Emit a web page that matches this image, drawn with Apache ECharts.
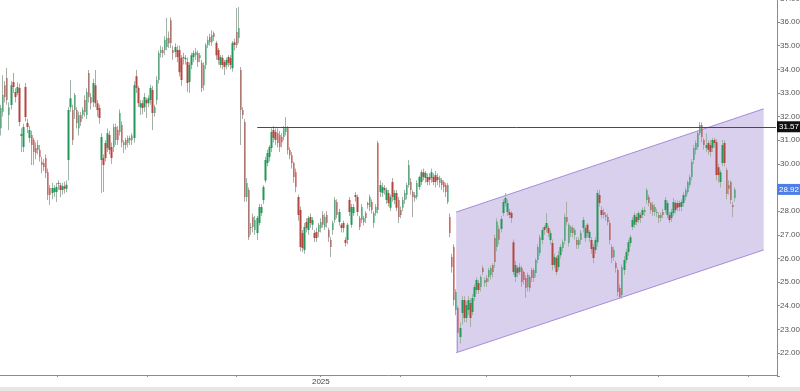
<!DOCTYPE html>
<html><head><meta charset="utf-8">
<script src="https://cdn.jsdelivr.net/npm/echarts@6/dist/echarts.min.js"></script>
<style>html,body{margin:0;padding:0;background:#fff;overflow:hidden}#c{width:800px;height:391px}</style>
</head><body><div id="c"></div>
<script>
// ---- data ----
const months = ['2024-05','2024-06','2024-07','2024-08','2024-09','2024-10','2024-11','2024-12','2025-01','2025-02','2025-03','2025-04','2025-05','2025-06','2025-07','2025-08','2025-09','2025-10','2025-11'];
const tradingDays = [9,19,22,22,20,23,20,21,20,19,21,21,21,20,22,21,21,23,14];
const tickMonths = ['2024-07','2024-09','2024-11','2025-01','2025-03','2025-05','2025-07','2025-09','2025-11'];
const yearLabelMonth = '2025-01';
const yearLabelText = '2025';
// [open, close, low, high]
const candles = [
[31.51,32.36,31.2,32.5],[32.2,32.91,32.0,33.75],[33.33,32.83,32.6,33.5],[33.63,32.7,32.5,34.05],[32.07,32.4,31.43,32.6],
[32.49,33.33,32.3,33.5],[33.46,33.25,33.0,33.85],[33.04,32.83,32.6,33.2],[33.0,33.25,32.9,33.45],[33.21,31.77,31.6,33.4],
[31.18,31.26,30.5,31.5],[30.71,31.56,30.5,31.7],[33.25,31.98,31.8,33.42],[31.73,31.56,31.3,31.9],[31.09,31.43,30.9,31.6],
[31.22,30.8,29.95,31.4],[31.01,30.5,29.95,31.1],[30.67,30.46,30.2,30.9],[30.59,30.8,30.4,31.0],[30.59,30.29,30.1,30.8],
[30.08,29.95,29.6,30.3],[30.04,29.87,29.7,30.2],[30.25,29.61,29.4,30.4],[29.65,28.68,28.47,29.8],[28.98,28.68,28.26,29.1],
[28.77,28.98,28.5,29.2],[28.81,28.98,28.6,29.1],[28.81,29.02,28.39,29.2],[29.19,29.15,28.9,29.3],[29.1,28.9,28.6,29.2],
[28.9,29.05,28.7,29.2],[29.05,28.95,28.75,29.25],[28.95,29.12,28.8,29.3],[30.16,32.28,29.3,32.4],[32.4,32.78,32.2,33.55],
[32.28,31.01,30.8,32.5],[32.28,32.91,31.9,33.0],[32.28,31.73,31.5,32.4],[31.51,32.07,31.2,32.2],[32.07,31.77,31.6,32.2],
[32.07,32.28,31.9,32.4],[32.7,32.19,32.0,32.9],[32.07,33.04,31.9,33.2],[33.84,32.83,32.6,33.97],[32.83,32.57,32.3,33.0],
[32.61,33.42,32.4,33.6],[33.33,32.57,32.4,33.97],[32.57,32.28,32.0,32.7],[32.36,31.94,31.7,32.5],[30.16,31.14,28.77,31.3],
[30.25,29.95,28.81,30.4],[30.88,30.25,30.1,31.0],[30.67,31.3,30.5,31.5],[31.22,30.59,30.4,31.4],[30.71,30.25,30.0,30.9],
[30.71,31.56,30.5,31.7],[31.56,31.01,30.8,31.7],[31.43,31.01,30.8,31.6],[31.35,32.15,31.2,32.3],[31.64,30.92,30.7,31.8],
[30.8,30.92,30.46,31.0],[31.01,30.8,30.6,31.1],[30.88,31.09,30.7,31.2],[31.09,31.0,30.8,31.2],[31.0,31.2,30.8,31.3],
[31.09,33.33,30.9,33.5],[33.71,33.21,33.0,33.97],[33.21,32.57,32.4,33.3],[32.4,32.57,32.07,32.7],[32.57,32.36,32.1,32.7],
[32.4,32.83,32.2,33.0],[32.7,32.57,31.94,32.8],[32.57,32.78,32.4,32.9],[32.7,33.21,32.5,33.35],[33.12,32.15,31.43,33.3],
[32.15,32.4,32.0,32.5],[32.7,33.55,32.5,33.7],[33.55,34.69,33.4,34.8],[34.69,34.82,34.5,35.0],[34.82,34.69,34.5,34.95],
[34.82,35.24,34.6,35.4],[34.94,35.32,34.8,36.17],[35.32,35.1,34.9,35.6],[36.08,35.11,34.9,36.2],[34.82,34.69,34.4,35.0],
[34.73,34.94,34.5,35.1],[34.82,34.52,34.3,35.0],[34.82,33.88,33.7,35.0],[34.48,33.55,33.3,34.6],[34.52,34.48,34.2,34.7],
[34.43,34.48,34.2,34.6],[34.31,33.42,33.04,34.5],[33.46,34.18,33.0,34.3],[34.18,34.6,34.0,34.7],[34.52,34.69,34.3,34.8],
[34.6,34.73,34.4,34.9],[34.69,34.31,34.1,34.8],[34.48,34.6,34.3,34.7],[34.27,33.21,33.04,34.4],[33.33,34.18,33.1,34.3],
[34.18,35.03,34.0,35.1],[35.03,35.24,34.9,35.4],[35.37,35.15,35.0,35.5],[35.15,35.45,35.0,35.66],[35.53,35.37,35.2,35.6],
[35.11,34.6,34.4,35.2],[34.82,34.39,34.2,34.9],[34.18,34.52,34.05,34.6],[34.48,34.18,34.0,34.6],[34.31,34.1,33.76,34.4],
[34.18,34.39,34.0,34.5],[34.52,34.27,34.1,34.6],[34.48,34.18,34.0,34.6],[34.05,35.11,33.9,35.2],[35.15,35.03,34.8,35.3],
[35.58,35.03,34.9,36.59],[35.32,35.75,35.1,36.63],[33.97,32.28,30.8,34.1],[32.28,32.07,31.9,32.4],[31.77,28.6,28.4,31.9],
[28.6,29.19,28.4,29.4],[28.89,26.9,26.78,29.0],[27.33,27.29,27.0,27.5],[27.75,27.33,27.1,27.9],[27.2,27.63,27.0,27.8],
[27.08,27.71,26.78,27.8],[27.5,28.18,27.4,28.3],[27.92,28.18,27.8,28.3],[28.47,29.02,28.3,29.1],[29.3,30.16,29.2,30.3],
[30.04,30.46,29.9,30.6],[30.29,30.71,30.1,30.8],[30.67,31.35,30.5,31.5],[31.43,31.09,30.9,31.6],[31.35,31.01,30.8,31.5],
[31.3,30.88,30.7,31.5],[31.22,30.71,30.5,31.4],[31.14,30.92,30.7,31.3],[31.14,31.51,31.0,31.6],[31.35,31.56,31.2,31.98],
[31.51,30.59,30.4,31.6],[30.59,30.37,30.2,30.7],[30.37,30.04,29.8,30.5],[30.04,29.44,29.2,30.1],[29.65,29.02,28.8,29.8],
[28.6,27.84,27.6,28.7],[28.05,26.48,26.3,28.2],[27.08,26.44,26.27,27.2],[26.36,27.33,26.2,27.5],[27.54,27.29,27.1,27.7],
[27.2,27.71,27.0,27.8],[27.75,27.5,27.3,27.9],[27.42,27.63,27.2,27.75],[27.08,26.86,26.7,27.2],[27.12,26.86,26.7,27.3],
[27.12,27.42,26.9,27.5],[27.29,27.54,27.1,27.7],[27.84,27.42,27.3,28.0],[27.33,27.75,27.2,27.9],[27.84,27.5,27.3,28.0],
[27.2,26.9,26.7,27.3],[26.78,26.48,26.06,26.9],[27.2,27.5,27.0,27.6],[27.63,28.47,27.5,28.6],[28.39,27.84,27.7,28.5],
[27.54,27.96,27.4,28.1],[27.42,27.29,27.1,27.5],[27.5,27.29,27.1,27.6],[26.78,26.65,26.5,26.9],[26.78,27.42,26.6,27.5],
[28.47,27.96,27.8,28.6],[27.42,28.18,27.3,28.3],[27.92,28.18,27.8,28.3],[28.68,28.6,28.4,28.8],[28.6,27.96,27.8,28.7],
[27.71,27.33,27.2,27.8],[27.63,28.18,27.5,28.3],[27.54,27.71,27.4,27.8],[27.92,27.71,27.5,28.0],[28.34,28.26,28.1,28.4],
[28.18,28.6,28.0,28.7],[28.39,28.05,27.9,28.5],[27.5,27.92,27.3,28.0],[27.92,28.18,27.8,28.3],[30.88,28.05,27.9,30.97],
[28.81,29.11,28.6,29.3],[28.77,29.02,28.6,29.2],[28.98,28.9,28.7,29.1],[28.47,28.9,28.3,29.0],[28.77,28.34,28.2,28.9],
[28.14,28.6,28.0,28.7],[29.23,28.6,28.4,29.4],[28.47,28.77,28.3,28.9],[28.77,28.14,28.0,28.9],[28.47,27.75,27.5,28.6],
[28.05,27.84,27.7,28.2],[28.14,28.47,28.0,28.6],[28.47,28.77,28.3,28.9],[28.68,29.11,28.5,29.2],[29.11,29.95,29.0,30.16],
[29.23,28.9,28.7,29.4],[28.81,28.6,27.75,28.9],[28.68,28.56,28.4,28.8],[28.6,29.19,28.5,29.3],[29.02,29.44,28.9,29.5],
[29.23,29.65,29.1,29.75],[29.65,29.44,29.3,29.8],[29.4,29.61,29.2,29.7],[29.44,29.23,29.1,29.6],[29.44,29.32,29.1,29.6],
[29.4,29.65,29.2,29.8],[29.44,29.23,29.1,29.6],[29.53,29.23,29.0,29.7],[29.44,29.32,29.1,29.6],[29.19,29.4,29.0,29.5],
[29.32,29.11,28.9,29.4],[29.23,29.02,28.8,29.3],[29.11,28.81,28.6,29.2],[28.39,29.11,28.3,29.2],[27.75,27.08,26.9,27.9],
[26.06,25.64,25.4,26.2],[26.48,24.24,24.0,26.6],[23.82,24.58,23.6,24.7],[23.9,22.85,22.01,24.0],[22.68,23.06,22.4,23.3],
[23.69,24.24,23.2,24.4],[24.24,23.48,23.3,24.4],[23.48,24.03,23.3,24.2],[23.82,24.24,23.6,24.4],[24.11,23.48,23.1,24.3],
[23.73,24.33,23.6,24.5],[24.37,24.79,24.2,24.9],[24.66,25.09,24.5,25.2],[24.96,24.66,24.5,25.1],[24.79,25.21,24.6,25.3],
[25.6,25.43,25.3,25.7],[24.96,25.09,24.8,25.2],[25.17,25.0,24.8,25.3],[25.21,25.51,25.0,25.6],[25.3,25.6,25.1,25.7],
[25.72,25.43,25.2,25.8],[26.86,25.85,25.6,27.0],[26.48,27.56,26.3,27.7],[27.25,26.79,26.6,27.4],[27.25,27.67,27.1,27.8],
[27.92,28.39,27.8,28.5],[28.34,28.56,28.2,28.77],[27.96,28.34,27.8,28.5],[27.96,27.84,27.7,28.1],[27.92,27.71,27.5,28.0],
[26.69,25.43,25.3,26.8],[25.21,25.72,25.0,25.9],[25.6,25.38,25.2,25.7],[25.43,25.64,25.3,25.8],[25.6,25.0,24.8,25.7],
[25.43,25.09,24.9,25.5],[25.17,24.75,24.33,25.3],[24.79,25.3,24.6,25.4],[25.21,24.75,24.6,25.3],[25.51,25.17,25.0,25.6],
[25.17,25.51,25.0,25.6],[25.38,25.93,25.2,26.0],[25.93,26.48,25.8,26.6],[26.23,26.9,26.1,27.0],[26.78,27.2,26.6,27.3],
[27.33,27.2,27.0,27.4],[27.29,27.5,27.1,27.92],[27.29,27.08,26.9,27.4],[26.78,27.08,26.6,27.2],[26.65,25.72,25.5,26.8],
[25.72,26.06,25.6,26.2],[26.02,25.43,25.3,26.1],[25.64,26.14,25.5,26.3],[26.14,26.48,26.0,26.6],[26.44,26.69,26.3,26.8],
[26.75,27.75,26.6,27.9],[27.75,27.54,27.4,28.39],[26.65,27.42,26.5,27.5],[27.08,27.33,26.9,27.4],[27.29,27.08,26.9,27.4],
[26.99,27.2,26.8,27.3],[26.78,26.57,26.4,26.9],[26.57,26.78,26.4,26.9],[26.78,27.08,26.6,27.2],[27.29,27.63,27.1,27.75],
[26.86,27.29,26.7,27.4],[27.42,27.08,26.9,27.5],[26.86,27.12,26.7,27.2],[26.78,26.4,26.2,26.9],[26.48,26.02,25.8,26.6],
[26.36,26.78,26.2,26.9],[26.69,28.77,26.5,28.9],[28.68,28.34,28.2,28.9],[28.05,27.84,27.7,28.2],[27.96,27.84,27.7,28.1],
[27.75,27.84,27.6,27.95],[27.75,27.54,27.4,27.9],[27.5,26.78,26.6,27.6],[26.48,26.02,25.8,26.6],[26.06,26.36,25.9,26.5],
[25.81,25.6,25.4,25.9],[25.51,24.58,24.4,25.6],[24.75,24.37,24.28,24.9],[24.45,25.64,24.3,25.75],[25.51,25.93,25.3,26.1],
[25.93,26.27,25.8,26.4],[26.27,26.69,26.1,26.8],[26.65,26.9,26.5,27.0],[27.33,27.63,27.2,27.75],[27.42,27.84,27.3,27.95],
[27.75,27.54,27.4,27.9],[27.63,27.92,27.5,28.0],[27.84,27.71,27.5,27.95],[27.84,28.05,27.7,28.15],[27.96,28.05,27.8,28.2],
[28.47,28.9,28.3,28.98],[28.6,28.34,28.2,28.7],[28.34,28.05,27.9,28.4],[28.26,27.96,27.8,28.4],[27.96,28.18,27.8,28.3],
[27.92,27.96,27.75,28.1],[27.84,27.71,27.5,27.95],[27.71,27.84,27.55,27.95],[27.96,27.84,27.7,28.1],[28.05,28.47,27.9,28.6],
[27.84,28.34,27.7,28.45],[27.84,27.63,27.5,27.95],[27.71,27.96,27.55,28.1],[27.92,28.39,27.8,28.56],[28.34,28.05,27.9,28.45],
[28.34,28.14,28.0,28.45],[28.34,28.18,28.0,28.45],[28.18,28.39,28.0,28.5],[28.34,28.68,28.2,28.8],[28.6,28.9,28.45,29.0],
[28.81,29.23,28.7,29.3],[29.11,29.44,29.0,29.55],[29.44,30.08,29.3,30.2],[30.16,30.67,30.0,30.8],[30.59,30.88,30.4,31.0],
[30.71,31.3,30.6,31.4],[31.3,31.64,31.2,31.77],[31.64,31.14,30.9,31.75],[31.01,30.8,30.6,31.1],[30.67,30.8,30.5,31.3],
[30.88,30.59,30.4,31.0],[30.8,30.5,30.3,31.0],[30.67,31.01,30.5,31.1],[31.01,30.88,30.7,31.1],[30.92,29.53,29.3,31.05],
[29.86,29.53,29.2,30.0],[29.23,29.65,29.0,29.75],[30.04,30.8,29.9,31.01],[30.88,30.04,29.9,31.0],[29.74,28.73,28.5,29.85],
[29.1,28.95,28.7,29.3],[29.23,28.47,28.3,29.3],[28.26,28.18,27.75,28.4],[28.56,28.92,28.4,29.0]
];
// regression channel anchors (category index, price)
const channelIdx = [222, 372];
const channelUpper = [27.96, 32.33];
const channelLower = [22.01, 26.36];
// horizontal level
const levelIdx = [125, 378];
const levelPrice = 31.57;
const lastPrice = 28.92;
const yMin = 21, yMax = 37, yStep = 1;

// ---- build ----
const categories = [];
const monthStart = {};
months.forEach((m, i) => {
  monthStart[m] = categories.length;
  for (let d = 1; d <= tradingDays[i]; d++) categories.push(m + '-' + String(d).padStart(2, '0'));
});
const tickIdx = new Set(tickMonths.map(m => monthStart[m]));
const yearIdx = monthStart[yearLabelMonth];

const FONT = '"Liberation Sans",Arial,sans-serif';
const NOLINE = {color: 'rgba(0,0,0,0)', width: 0};
const chart = echarts.init(document.getElementById('c'), null, {renderer: 'canvas'});
chart.setOption({
  animation: false,
  backgroundColor: '#ffffff',
  grid: {left: 0, right: 23, top: -1.6, bottom: 14.36, containLabel: false, outerBoundsMode: 'none'},
  xAxis: {
    type: 'category', data: categories, boundaryGap: true, offset: -1.6,
    axisLine: {show: true, lineStyle: {color: '#8c8c8c', width: 1}},
    axisTick: {show: true, interval: (i) => tickIdx.has(i), length: 2, lineStyle: {color: '#8c8c8c'}},
    axisLabel: {show: true, interval: (i) => i === yearIdx, formatter: (v, i) => (i === yearIdx ? yearLabelText : ''),
      fontSize: 8, color: '#444', margin: 3, fontFamily: FONT},
    splitLine: {show: false}
  },
  yAxis: {
    type: 'value', position: 'right', min: yMin, max: yMax, interval: yStep,
    axisLine: {show: true, lineStyle: {color: '#8c8c8c', width: 1}},
    axisTick: {show: true, length: 3, lineStyle: {color: '#8c8c8c'}},
    axisLabel: {formatter: (v) => (v < 22 ? '' : v.toFixed(2)), fontSize: 8, color: '#555', margin: 3, fontFamily: FONT},
    splitLine: {show: false}
  },
  graphic: [{type: 'rect', shape: {x: 0, y: 387, width: 800, height: 4}, style: {fill: '#e6e6e6'}, silent: true}],
  series: [
    {
      type: 'custom', z: 1, silent: true, clip: false, data: [0],
      renderItem: (params, api) => {
        const ul = api.coord([channelIdx[0], channelUpper[0]]);
        const ur = api.coord([channelIdx[1], channelUpper[1]]);
        const lr = api.coord([channelIdx[1], channelLower[1]]);
        const ll = api.coord([channelIdx[0], channelLower[0]]);
        return {type: 'group', children: [
          {type: 'polygon', shape: {points: [ul, ur, lr, ll]}, style: {fill: 'rgba(158,138,208,0.4)'}},
          {type: 'line', shape: {x1: ul[0], y1: ul[1], x2: ur[0], y2: ur[1]}, style: {stroke: '#a98bd8', lineWidth: 1}},
          {type: 'line', shape: {x1: ll[0], y1: ll[1], x2: lr[0], y2: lr[1]}, style: {stroke: '#a98bd8', lineWidth: 1}}
        ]};
      },
      markLine: {
        symbol: 'none', silent: true, animation: false,
        data: [
          [{coord: [levelIdx[0], levelPrice], lineStyle: {color: '#4a4a4a', width: 1, type: 'solid'}, label: {show: false}},
           {coord: [levelIdx[1], levelPrice], label: {show: false}}],
          {yAxis: levelPrice, lineStyle: NOLINE, label: {show: true, position: 'end', distance: 0, formatter: levelPrice.toFixed(2),
            backgroundColor: '#111', color: '#fff', padding: [2, 1, 1, 2], fontSize: 8, fontFamily: FONT}},
          {yAxis: lastPrice, lineStyle: NOLINE, label: {show: true, position: 'end', distance: 0, formatter: lastPrice.toFixed(2),
            backgroundColor: '#4f7fe6', color: '#fff', padding: [2, 1, 1, 2], fontSize: 8, fontFamily: FONT}}
        ]
      }
    },
    {
      type: 'candlestick', z: 2, silent: true, data: candles, barWidth: 1.2,
      itemStyle: {color: '#c3cfc8', color0: '#cbbdbb', borderColor: '#9fb4a7', borderColor0: '#a9aba6', borderWidth: 1}
    },
    {
      type: 'candlestick', z: 3, silent: true, data: candles, barWidth: 2,
      itemStyle: {color: '#23985a', color0: '#b3463e', borderWidth: 0}
    }
  ]
});
</script></body></html>
